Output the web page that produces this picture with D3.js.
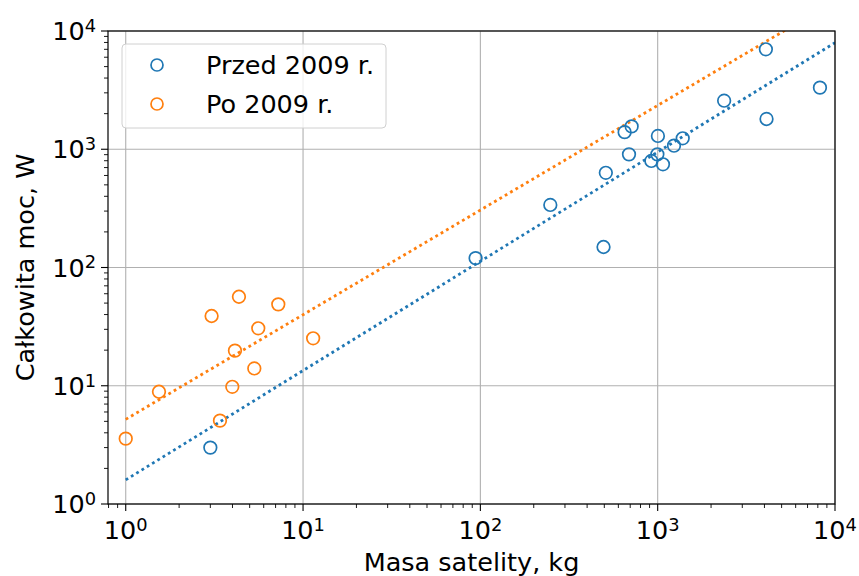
<!DOCTYPE html>
<html><head><meta charset="utf-8">
<script src="https://cdn.jsdelivr.net/npm/d3@7"></script>
<style>body{margin:0;background:#fff}svg{display:block}text{font-family:"DejaVu Sans",sans-serif;fill:#000}</style>
</head><body><svg id="c" width="859" height="576"></svg>
<script>
const seriesNames = ["Przed 2009 r.", "Po 2009 r."];
const colors = ["#1f77b4", "#ff7f0e"];
const przedMass  = [3, 94, 248, 495, 510, 651, 713, 689, 921, 996, 1071, 1003, 1236, 1384, 2370, 4075, 4110, 8225];
const przedPower = [3, 120, 338, 149, 632, 1395, 1560, 906, 796, 906, 746, 1295, 1072, 1238, 2574, 7000, 1803, 3318];
const poMass  = [1.0, 1.54, 3.05, 3.40, 3.99, 4.13, 4.35, 5.31, 5.59, 7.25, 11.4];
const poPower = [3.57, 8.9, 38.9, 5.07, 9.8, 19.8, 56.6, 14.0, 30.6, 48.8, 25.2];
const przedFit = [[1, 1.6], [10000, 7960]];
const poFit = [[1, 5.2], [10000, 18000]];
const xTicks = [1, 10, 100, 1000, 10000];
const yTicks = [1, 10, 100, 1000, 10000];
const xLabel = "Masa satelity, kg";
const yLabel = "Całkowita moc, W";

const svg = d3.select("#c");
const L = 108, R = 835, T = 31, B = 504;
const x = d3.scaleLog().domain([Math.pow(10, -0.1), 10000]).range([L, R]);
const y = d3.scaleLog().domain([1, 10000]).range([B, T]);
const fs = 25.5;

// grid
const g = svg.append("g");
g.selectAll(".gx").data(xTicks).enter().append("line")
  .attr("x1", d => x(d)).attr("x2", d => x(d)).attr("y1", T).attr("y2", B)
  .attr("stroke", "#b0b0b0").attr("stroke-width", 1.1);
g.selectAll(".gy").data(yTicks).enter().append("line")
  .attr("y1", d => y(d)).attr("y2", d => y(d)).attr("x1", L).attr("x2", R)
  .attr("stroke", "#b0b0b0").attr("stroke-width", 1.1);

// clip
svg.append("clipPath").attr("id", "clip").append("rect")
  .attr("x", L).attr("y", T).attr("width", R - L).attr("height", B - T);

// fit lines
const line = d3.line().x(d => x(d[0])).y(d => y(d[1]));
[przedFit, poFit].forEach((f, i) => {
  svg.append("path").attr("d", line(f)).attr("clip-path", "url(#clip)")
    .attr("fill", "none").attr("stroke", colors[i]).attr("stroke-width", 2.8)
    .attr("stroke-dasharray", "2.8,3.4");
});

// points
function pts(mass, power, c) {
  svg.append("g").attr("clip-path", "url(#clip)").selectAll("circle")
    .data(mass.map((m, i) => [m, power[i]])).enter().append("circle")
    .attr("cx", d => x(d[0])).attr("cy", d => y(d[1])).attr("r", 6.3)
    .attr("fill", "none").attr("stroke", c).attr("stroke-width", 1.7);
}
pts(przedMass, przedPower, colors[0]);
pts(poMass, poPower, colors[1]);

// axes ticks
const ax = svg.append("g");
function minors(domain) {
  const out = [];
  for (let e = -1; e < 4; e++) for (let k = 2; k <= 9; k++) {
    const v = k * Math.pow(10, e);
    if (v >= domain[0] && v <= domain[1]) out.push(v);
  }
  return out;
}
ax.selectAll(".mx").data(minors(x.domain())).enter().append("line")
  .attr("x1", d => x(d)).attr("x2", d => x(d)).attr("y1", B).attr("y2", B + 4)
  .attr("stroke", "#000").attr("stroke-width", 0.9);
ax.selectAll(".my").data(minors(y.domain())).enter().append("line")
  .attr("y1", d => y(d)).attr("y2", d => y(d)).attr("x1", L).attr("x2", L - 4)
  .attr("stroke", "#000").attr("stroke-width", 0.9);
ax.selectAll(".Mx").data(xTicks).enter().append("line")
  .attr("x1", d => x(d)).attr("x2", d => x(d)).attr("y1", B).attr("y2", B + 7)
  .attr("stroke", "#000").attr("stroke-width", 1.1);
ax.selectAll(".My").data(yTicks).enter().append("line")
  .attr("y1", d => y(d)).attr("y2", d => y(d)).attr("x1", L).attr("x2", L - 7)
  .attr("stroke", "#000").attr("stroke-width", 1.1);

function powLabel(sel) {
  sel.text("10").append("tspan").attr("dy", "-0.45em").attr("font-size", fs * 0.7)
    .text(d => Math.round(Math.log10(d)));
}
ax.selectAll(".lx").data(xTicks).enter().append("text")
  .attr("x", d => x(d)).attr("y", B + 35).attr("text-anchor", "middle")
  .attr("font-size", fs).call(powLabel);
ax.selectAll(".ly").data(yTicks).enter().append("text")
  .attr("x", L - 12).attr("y", d => y(d) + 9).attr("text-anchor", "end")
  .attr("font-size", fs).call(powLabel);

// spines
svg.append("rect").attr("x", L).attr("y", T).attr("width", R - L).attr("height", B - T)
  .attr("fill", "none").attr("stroke", "#000").attr("stroke-width", 1.2);

// axis labels
svg.append("text").attr("x", (L + R) / 2).attr("y", 571).attr("text-anchor", "middle")
  .attr("font-size", fs).text(xLabel);
svg.append("text").attr("transform", `translate(34,${(T + B) / 2}) rotate(-90)`)
  .attr("text-anchor", "middle").attr("font-size", fs).text(yLabel);

// legend
const lg = svg.append("g");
lg.append("rect").attr("x", 122).attr("y", 44).attr("width", 264).attr("height", 84)
  .attr("rx", 4).attr("fill", "#fff").attr("fill-opacity", 0.8)
  .attr("stroke", "#d0d0d0").attr("stroke-width", 1);
seriesNames.forEach((n, i) => {
  const cy = 65 + i * 39;
  lg.append("circle").attr("cx", 157).attr("cy", cy).attr("r", 6)
    .attr("fill", "none").attr("stroke", colors[i]).attr("stroke-width", 1.7);
  lg.append("text").attr("x", 206).attr("y", cy + 9).attr("font-size", fs).text(n);
});
</script></body></html>
